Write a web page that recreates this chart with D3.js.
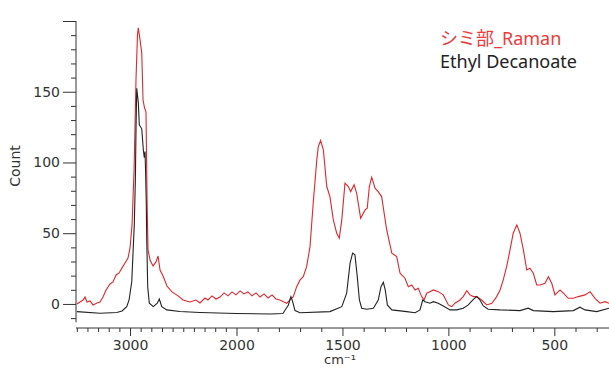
<!DOCTYPE html>
<html>
<head>
<meta charset="utf-8">
<script src="https://cdn.jsdelivr.net/npm/d3@7"></script>
<style>
  body { margin: 0; background: #fff; }
  svg { display: block; }
</style>
</head>
<body>
<div id="chart"></div>
<script>
// wavenumber (cm-1) and count
const ramanWn = [3500, 3470, 3441, 3423, 3404, 3376, 3347, 3310, 3282, 3254, 3225, 3188, 3160, 3131, 3103, 3075, 3047, 3019, 3000, 2981, 2962, 2944, 2930, 2922, 2906, 2890, 2878, 2864, 2850, 2840, 2831, 2812, 2784, 2756, 2737, 2718, 2690, 2653, 2606, 2549, 2502, 2437, 2380, 2343, 2296, 2268, 2230, 2192, 2155, 2117, 2080, 2042, 2005, 1983, 1965, 1946, 1927, 1908, 1889, 1870, 1851, 1832, 1814, 1795, 1779, 1763, 1747, 1732, 1716, 1700, 1685, 1669, 1653, 1638, 1621, 1614, 1603, 1590, 1574, 1559, 1543, 1527, 1515, 1503, 1488, 1472, 1461, 1445, 1433, 1414, 1393, 1383, 1373, 1362, 1346, 1331, 1315, 1291, 1267, 1244, 1228, 1205, 1189, 1173, 1157, 1142, 1126, 1115, 1102, 1087, 1071, 1048, 1024, 1000, 984, 969, 945, 930, 913, 898, 882, 866, 843, 819, 795, 772, 756, 741, 725, 709, 694, 677, 662, 646, 630, 615, 599, 583, 567, 544, 528, 512, 497, 473, 457, 434, 410, 387, 355, 331, 308, 284, 261, 242];
const ramanCount = [0, 1.4, 2.8, 4.9, 1.4, 2.1, -0.7, 0.7, 1.4, 4.9, 9.9, 14.1, 15.6, 20.5, 21.9, 25.5, 29, 32.5, 39.6, 55.9, 94.8, 158.4, 190.2, 195.2, 186.7, 177.5, 144.3, 138.6, 135.8, 73.5, 38.2, 31.1, 26.9, 29.7, 33.9, 24, 19.8, 12.7, 8.5, 5.7, 2.8, 1.4, 2.8, 0.7, 4.2, 2.8, 5.7, 3.5, 4.9, 7.8, 5.7, 8.5, 6.4, 9.2, 7.1, 8.5, 5.7, 7.8, 4.9, 7.1, 4.2, 6.4, 3.5, 2.8, 1.6, 0.5, 2.8, 5.2, 12.2, 17, 19.3, 26.4, 40.5, 71.2, 101.8, 111.2, 115.5, 108.9, 83, 75.9, 59.4, 50, 46.5, 59.4, 85.4, 83, 79.4, 84.2, 78.3, 60.6, 66.5, 67.7, 83, 89.6, 81.8, 79.4, 75.9, 52.3, 35.9, 33.5, 21.7, 18.2, 12.2, 13.4, 9.9, 11.1, 5.2, 2.8, 7.6, 8.7, 9.9, 8.7, 6.4, -0.7, -1.9, 0.5, 2.8, 5.2, 9.4, 6.4, 5.2, 5.2, 2.8, -0.7, 0.5, 5.2, 9.9, 17, 26.4, 38.2, 50, 55.9, 50, 38.2, 24, 25.2, 21.7, 13.4, 13.4, 14.6, 19.3, 14.6, 6.4, 9.9, 7.6, 4, 4, 5.2, 6.4, 8.7, 4, 0.5, 1.6, 0.5];

const ethylWn = [3500, 3282, 3125, 3075, 3031, 3009, 2984, 2960, 2950, 2944, 2937, 2922, 2913, 2890, 2875, 2866, 2859, 2854, 2848, 2843, 2834, 2819, 2781, 2744, 2725, 2702, 2655, 2531, 2343, 2005, 1842, 1781, 1755, 1747, 1743, 1735, 1724, 1700, 1559, 1503, 1480, 1464, 1452, 1441, 1430, 1420, 1409, 1385, 1354, 1331, 1318, 1307, 1298, 1288, 1267, 1197, 1157, 1134, 1121, 1110, 1087, 1071, 1048, 1024, 992, 961, 930, 906, 882, 866, 851, 835, 812, 756, 662, 623, 599, 505, 410, 379, 355, 300, 242];
const ethylCount = [-5.4, -6.6, -6, -5, -1.9, 2.8, 15.6, 55.9, 87.7, 123, 152.5, 142.1, 126.6, 123.8, 108.9, 103.3, 107.7, 93.4, 73.5, 45.3, 12.2, 0.5, -1.9, 0.5, 3.5, -1.9, -4.2, -5.3, -6, -6.7, -7.1, -6.7, -0.7, 3.5, 5.2, 1.6, -4.7, -6.2, -5.4, -1.9, 7.6, 28.8, 35.9, 34.7, 19.3, 2.8, -3, -3.7, -3, 2.8, 12.2, 15.3, 9.9, -0.7, -4.2, -5.4, -6.2, -4.2, 2.8, 1.6, 0.5, 1.6, 0.5, -1.4, -4.2, -4.2, -3, -0.7, 3.3, 5.2, 2.8, -1.4, -3.7, -4.2, -4.7, -3, -4.7, -5.4, -4.7, -2.3, -4.2, -5.4, -3];

const seriesNames = ["シミ部_Raman", "Ethyl Decanoate"];
const seriesColors = ["#e3262b", "#222222"];

const xMajor = [3000, 2000, 1500, 1000, 500];
const yMajor = [0, 50, 100, 150, 200];
const yLabels = ["0", "50", "100", "150", ""];

const W = 609, H = 370;
const svg = d3.select("#chart").append("svg").attr("width", W).attr("height", H);

// axis is compressed above 2000 cm-1
const x = d3.scaleLinear().domain([3500, 2000, 240]).range([76.8, 236.5, 609.4]);
const y = d3.scaleLinear().domain([-17, 200]).range([328, 21]);

const xMinor = d3.range(3500, 200, -100).filter(v => !xMajor.includes(v));
const yMinor = d3.range(-10, 200, 10).filter(v => !yMajor.includes(v));

const axisColor = "#333";
const font = "'DejaVu Sans', Verdana, sans-serif";

// lines
const line = d3.line().x(d => x(d[0])).y(d => y(d[1]));
const ramanData = d3.zip(ramanWn, ramanCount);
const ethylData = d3.zip(ethylWn, ethylCount);

svg.append("path").datum(ramanData)
  .attr("d", line).attr("fill", "none")
  .attr("stroke", seriesColors[0]).attr("stroke-width", 1.1);
svg.append("path").datum(ethylData)
  .attr("d", line).attr("fill", "none")
  .attr("stroke", seriesColors[1]).attr("stroke-width", 1.1);

// x axis
const gx = svg.append("g").attr("transform", "translate(0,328)");
gx.call(d3.axisBottom(x).tickValues(xMinor).tickSize(4).tickFormat(""));
gx.append("g").call(d3.axisBottom(x).tickValues(xMajor).tickSize(8).tickPadding(4)
  .tickFormat(d3.format("d")));
gx.selectAll(".domain").remove();
gx.append("line").attr("x1", 76).attr("x2", W).attr("y1", 0).attr("y2", 0)
  .attr("stroke", axisColor);
gx.selectAll("line").attr("stroke", axisColor);
gx.selectAll("text").attr("fill", axisColor).style("font-family", font).style("font-size", "14px");

// y axis
const gy = svg.append("g").attr("transform", "translate(76,0)");
gy.call(d3.axisLeft(y).tickValues(yMinor).tickSize(5).tickFormat(""));
gy.append("g").call(d3.axisLeft(y).tickValues(yMajor).tickSize(13).tickPadding(3)
  .tickFormat((d, i) => yLabels[i]));
gy.selectAll(".domain").remove();
gy.append("line").attr("x1", 0).attr("x2", 0).attr("y1", y(200)).attr("y2", y(-13))
  .attr("stroke", axisColor);
gy.selectAll("line").attr("stroke", axisColor);
gy.selectAll("text").attr("fill", axisColor).style("font-family", font).style("font-size", "14px");

// axis titles
svg.append("text").attr("x", 340).attr("y", 364).attr("text-anchor", "middle")
  .attr("fill", axisColor).style("font-family", font).style("font-size", "13px")
  .text("cm⁻¹");
svg.append("text").attr("transform", "translate(20,166) rotate(-90)")
  .attr("text-anchor", "middle").attr("fill", axisColor)
  .style("font-family", font).style("font-size", "14px").text("Count");

// legend
const legend = svg.append("g").attr("transform", "translate(440,0)");
legend.selectAll("text").data(seriesNames).enter().append("text")
  .attr("x", 0).attr("y", (d, i) => 45 + i * 22.5)
  .attr("fill", (d, i) => i === 0 ? "#f03a3a" : "#222")
  .style("font-family", "'Noto Sans', 'Noto Sans CJK JP', sans-serif")
  .style("font-size", "18px")
  .text(d => d);
</script>
</body>
</html>
